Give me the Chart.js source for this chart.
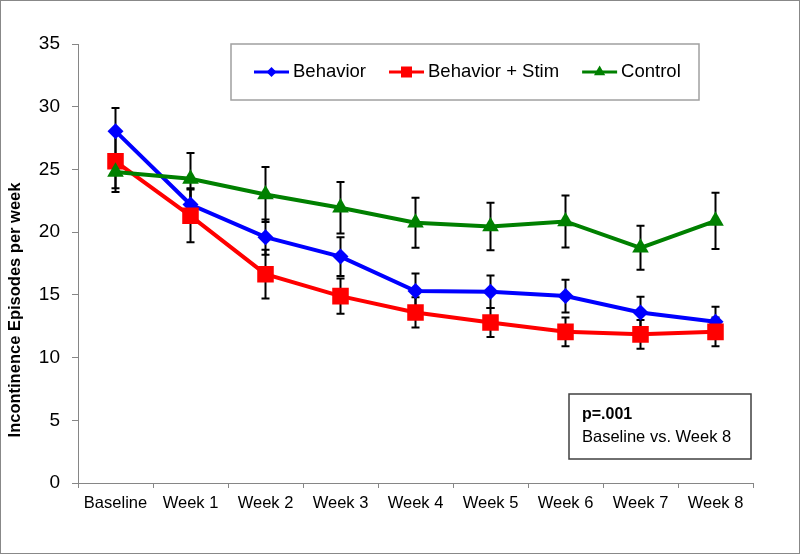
<!DOCTYPE html>
<html>
<head>
<meta charset="utf-8">
<script src="https://cdn.jsdelivr.net/npm/chart.js@4.4.0/dist/chart.umd.min.js"></script>
<style>
  html, body { margin: 0; padding: 0; background: #fff; }
  #wrap { width: 800px; height: 554px; }
</style>
</head>
<body>
<div id="wrap"><canvas id="chart" width="800" height="554"></canvas></div>
<script>
// data
const weeks = ['Baseline', 'Week 1', 'Week 2', 'Week 3', 'Week 4', 'Week 5', 'Week 6', 'Week 7', 'Week 8'];
const yTicks = [0, 5, 10, 15, 20, 25, 30, 35];

const behavior = [28.05, 22.2, 19.6, 18.05, 15.3, 15.25, 14.9, 13.6, 12.85];
const behaviorErr = [1.85, 1.3, 1.4, 1.55, 1.4, 1.3, 1.3, 1.25, 1.2];

const behaviorStim = [25.65, 21.3, 16.65, 14.9, 13.6, 12.8, 12.05, 11.85, 12.05];
const behaviorStimErr = [2.45, 2.1, 1.95, 1.4, 1.2, 1.15, 1.15, 1.15, 1.15];

const control = [24.8, 24.25, 23.0, 21.95, 20.75, 20.45, 20.85, 18.75, 20.9];
const controlErr = [1.3, 2.05, 2.2, 2.05, 2.0, 1.9, 2.08, 1.75, 2.25];

const seriesNames = ['Behavior', 'Behavior + Stim', 'Control'];
const yTitle = 'Incontinence Episodes per week';
const noteBold = 'p=.001';
const noteText = 'Baseline vs. Week 8';

Chart.defaults.font.family = '"Liberation Sans", Arial, sans-serif';
Chart.defaults.color = '#000';

function marker(ctx, style, x, y, r) {
    ctx.beginPath();
    if (style === 'rectRot') {
        ctx.moveTo(x - r, y);
        ctx.lineTo(x, y - r);
        ctx.lineTo(x + r, y);
        ctx.lineTo(x, y + r);
    } else if (style === 'rect') {
        ctx.rect(x - r, y - r, 2 * r, 2 * r);
    } else {
        const h = r * 0.866;
        ctx.moveTo(x, y - r);
        ctx.lineTo(x + h, y + r / 2);
        ctx.lineTo(x - h, y + r / 2);
    }
    ctx.closePath();
    ctx.fill();
}

// error bars go under the lines
const errorBars = {
    id: 'errorBars',
    beforeDatasetsDraw(chart) {
        const ctx = chart.ctx;
        const xs = chart.scales.x, ys = chart.scales.y;
        ctx.save();
        ctx.strokeStyle = '#000';
        ctx.lineWidth = 2;
        chart.data.datasets.forEach(ds => {
            ds.data.forEach((v, i) => {
                const px = xs.getPixelForValue(i);
                const top = ys.getPixelForValue(v + ds.errors[i]);
                const bot = ys.getPixelForValue(v - ds.errors[i]);
                ctx.beginPath();
                ctx.moveTo(px, top); ctx.lineTo(px, bot);
                ctx.moveTo(px - 4, top); ctx.lineTo(px + 4, top);
                ctx.moveTo(px - 4, bot); ctx.lineTo(px + 4, bot);
                ctx.stroke();
            });
        });
        ctx.restore();
    }
};

// legend box, note box, y title, outer frame
const extras = {
    id: 'extras',
    afterDraw(chart) {
        const ctx = chart.ctx;
        ctx.save();

        // frame
        ctx.strokeStyle = '#888';
        ctx.lineWidth = 1;
        ctx.strokeRect(0.5, 0.5, 799, 553);

        // y title
        ctx.save();
        ctx.translate(15, 310);
        ctx.rotate(-Math.PI / 2);
        ctx.font = 'bold 16.5px "Liberation Sans", Arial, sans-serif';
        ctx.fillStyle = '#000';
        ctx.textAlign = 'center';
        ctx.textBaseline = 'middle';
        ctx.fillText(yTitle, 0, 0);
        ctx.restore();

        // legend
        ctx.fillStyle = '#fff';
        ctx.fillRect(231, 44, 468, 56);
        ctx.strokeStyle = '#a0a0a0';
        ctx.lineWidth = 1.5;
        ctx.strokeRect(231, 44, 468, 56);
        ctx.font = '18.5px "Liberation Sans", Arial, sans-serif';
        ctx.textBaseline = 'middle';
        ctx.textAlign = 'left';
        const sizes = { rectRot: 5, rect: 5.5, triangle: 6.5 };
        let lx = 254;
        const ly = 72;
        chart.data.datasets.slice().sort((a, b) => b.order - a.order).forEach(ds => {
            ctx.strokeStyle = ds.borderColor;
            ctx.fillStyle = ds.borderColor;
            ctx.lineWidth = 3;
            ctx.beginPath();
            ctx.moveTo(lx, ly); ctx.lineTo(lx + 35, ly);
            ctx.stroke();
            marker(ctx, ds.pointStyle, lx + 17.5, ly, sizes[ds.pointStyle]);
            ctx.fillStyle = '#000';
            ctx.fillText(ds.label, lx + 39, ly);
            lx += 39 + ctx.measureText(ds.label).width + 23;
        });

        // note
        ctx.fillStyle = '#fff';
        ctx.fillRect(569, 394, 182, 65);
        ctx.strokeStyle = '#404040';
        ctx.lineWidth = 1.5;
        ctx.strokeRect(569, 394, 182, 65);
        ctx.fillStyle = '#000';
        ctx.textBaseline = 'alphabetic';
        ctx.font = 'bold 16px "Liberation Sans", Arial, sans-serif';
        ctx.fillText(noteBold, 582, 419);
        ctx.font = '16.5px "Liberation Sans", Arial, sans-serif';
        ctx.fillText(noteText, 582, 442);

        ctx.restore();
    }
};

function lineSet(label, data, errors, color, style, radius, order) {
    return {
        label: label,
        data: data,
        errors: errors,
        order: order,
        borderColor: color,
        backgroundColor: color,
        borderWidth: 4,
        pointStyle: style,
        pointRadius: radius,
        pointBorderWidth: 0,
        pointBackgroundColor: color,
        tension: 0,
        fill: false
    };
}

new Chart(document.getElementById('chart'), {
    type: 'line',
    data: {
        labels: weeks,
        datasets: [
            lineSet(seriesNames[0], behavior, behaviorErr, '#0000ff', 'rectRot', 8, 3),
            lineSet(seriesNames[1], behaviorStim, behaviorStimErr, '#ff0000', 'rect', 11.7, 2),
            lineSet(seriesNames[2], control, controlErr, '#008000', 'triangle', 9.6, 1)
        ]
    },
    options: {
        responsive: false,
        animation: false,
        layout: { padding: { top: 44, right: 47, left: 0, bottom: 0 } },
        plugins: {
            legend: { display: false },
            tooltip: { enabled: false }
        },
        scales: {
            x: {
                offset: true,
                grid: { offset: true, drawOnChartArea: false, tickLength: 5, color: '#868686' },
                border: { color: '#868686', width: 1 },
                ticks: { font: { size: 16.5 }, color: '#000', padding: 6, maxRotation: 0, autoSkip: false },
                afterFit: s => { s.height = 71; }
            },
            y: {
                min: 0,
                max: 35,
                grid: { drawOnChartArea: false, tickLength: 6, color: '#868686' },
                border: { color: '#868686', width: 1 },
                ticks: { font: { size: 19 }, color: '#000', padding: 12 },
                afterBuildTicks: s => { s.ticks = yTicks.map(v => ({ value: v })); },
                afterFit: s => { s.width = 78; }
            }
        }
    },
    plugins: [errorBars, extras]
});
</script>
</body>
</html>
